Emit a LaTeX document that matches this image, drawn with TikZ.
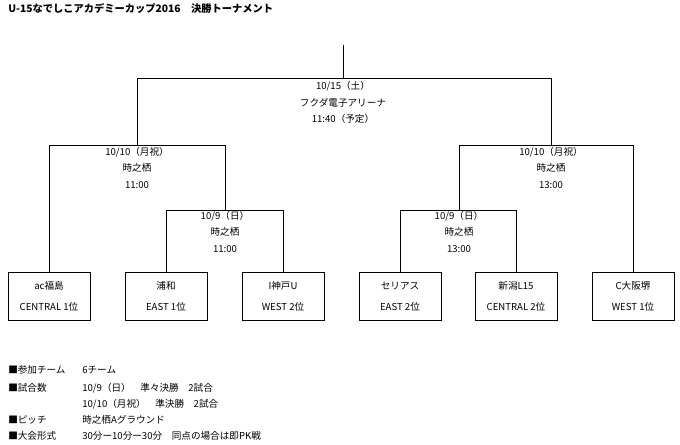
\documentclass[tikz,border=0pt]{standalone}
\usepackage{fontspec}
\setmainfont{Noto Sans CJK JP}
\begin{document}
\begin{tikzpicture}[x=0.75pt,y=-0.75pt,
  ln/.style={black,line width=0.6pt},
  team/.style={draw,line width=0.6pt,minimum width=61.5pt,minimum height=36pt,inner sep=0pt},
  lbl/.style={font=\fontsize{7.2}{8}\selectfont,inner sep=0pt},
  note/.style={font=\fontsize{7.2}{8}\selectfont,inner sep=0pt,anchor=west}]
\useasboundingbox (0,0) rectangle (680,444);
\node[anchor=west,inner sep=0pt,font=\fontsize{7.7}{9}\selectfont\bfseries] (title) at (8,9) {U-15なでしこアカデミーカップ2016　決勝トーナメント};
% boxes
\foreach \n/\x/\a/\b in {t1/49/ac福島/CENTRAL\ 1位, t2/166/浦和/EAST\ 1位, t3/283/I神戸U/WEST 2位, t4/400/セリアス/EAST 2位, t5/516/新潟L15/CENTRAL 2位, t6/633/C大阪堺/WEST\ 1位}{
  \node[team] (\n) at (\x,296) {};
  \node[lbl] at (\x,286) {\a};
  \node[lbl] at (\x,307) {\b};
}
\coordinate (top) at (343,45);
\coordinate (f) at (343,78);
\coordinate (fl) at (137,78);
\coordinate (fr) at (551,78);
\coordinate (sl) at (137,145);
\coordinate (sr) at (551,145);
\coordinate (sll) at (49,145);
\coordinate (slr) at (225,145);
\coordinate (srl) at (459,145);
\coordinate (srr) at (633,145);
\coordinate (ql) at (225,210);
\coordinate (qr) at (459,210);
\coordinate (qll) at (166,210);
\coordinate (qlr) at (283,210);
\coordinate (qrl) at (400,210);
\coordinate (qrr) at (516,210);
\draw[ln] (top) -- (f);
\draw[ln] (sl) -- (fl) -- (fr) -- (sr);
\draw[ln] (t1.north) -- (sll) -- (slr) -- (ql);
\draw[ln] (t6.north) -- (srr) -- (srl) -- (qr);
\draw[ln] (t2.north) -- (qll) -- (qlr) -- (t3.north);
\draw[ln] (t4.north) -- (qrl) -- (qrr) -- (t5.north);
% labels
\node[lbl] (a1) at (343,86) {10/15（土）};
\node[lbl] (a2) at (343,103) {フクダ電子アリーナ};
\node[lbl] (a3) at (343,119) {11:40（予定）};
\node[lbl] (b1) at (137,152) {10/10（月祝）};
\node[lbl] (b2) at (137,168) {時之栖};
\node[lbl] (b3) at (137,185) {11:00};
\node[lbl] (c1) at (551,152) {10/10（月祝）};
\node[lbl] (c2) at (551,168) {時之栖};
\node[lbl] (c3) at (551,185) {13:00};
\node[lbl] (d1) at (225,216) {10/9（日）};
\node[lbl] (d2) at (225,232) {時之栖};
\node[lbl] (d3) at (225,249) {11:00};
\node[lbl] (e1) at (459,216) {10/9（日）};
\node[lbl] (e2) at (459,232) {時之栖};
\node[lbl] (e3) at (459,249) {13:00};
% notes
\node[note] (n1) at (8,370) {■参加チーム};
\node[note] (m1) at (82,370) {6チーム};
\node[note] (n2) at (8,388) {■試合数};
\node[note] (m2) at (82,388) {10/9（日）　準々決勝　2試合};
\node[note] (m3) at (82,404) {10/10（月祝）　準決勝　2試合};
\node[note] (n4) at (8,420) {■ピッチ};
\node[note] (m4) at (82,420) {時之栖Aグラウンド};
\node[note] (n5) at (8,436) {■大会形式};
\node[note] (m5) at (82,436) {30分ー10分ー30分　同点の場合は即PK戦};
\end{tikzpicture}
\end{document}
